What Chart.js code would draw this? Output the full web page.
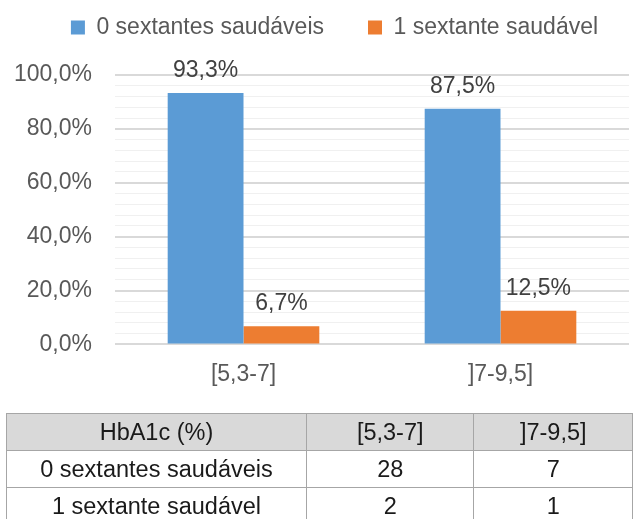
<!DOCTYPE html>
<html>
<head>
<meta charset="utf-8">
<script src="https://cdn.jsdelivr.net/npm/chart.js@4/dist/chart.umd.min.js"></script>
<style>
  html, body { margin: 0; padding: 0; background: #fff; }
  body { width: 633px; height: 519px; position: relative; overflow: hidden; font-family: "Liberation Sans", Arial, sans-serif; }
  #wrap { position: absolute; left: 0; top: 0; width: 633px; height: 418px; }
  table { position: absolute; left: 6px; top: 413px; border-collapse: collapse; table-layout: fixed; font-size: 23.5px; color: #1a1a1a; }
  td { border: 1px solid #a6a6a6; text-align: center; height: 36px; padding: 0; }
  tr.head td { background: #d9d9d9; }
</style>
</head>
<body>
<div id="wrap"><canvas id="chart" width="633" height="418"></canvas></div>
<table id="tbl"></table>
<script>
const categories = ['[5,3-7]', ']7-9,5]'];
const seriesNames = ['0 sextantes saudáveis', '1 sextante saudável'];
const pct0 = [93.3, 87.5];
const pct1 = [6.7, 12.5];
const counts0 = [28, 7];
const counts1 = [2, 1];
const tableHeader = 'HbA1c (%)';
const colors = ['#5B9BD5', '#ED7D31'];

const fmt = v => v.toFixed(1).replace('.', ',') + '%';
const FONT = '"Liberation Sans", Arial, sans-serif';
const LEGEND_GAP = 44;

// data labels above each bar
const barLabels = {
    id: 'barLabels',
    afterDatasetsDraw(chart) {
        const ctx = chart.ctx;
        ctx.save();
        ctx.font = '23px ' + FONT;
        ctx.fillStyle = '#404040';
        ctx.textAlign = 'center';
        ctx.textBaseline = 'bottom';
        chart.data.datasets.forEach((ds, i) => {
            chart.getDatasetMeta(i).data.forEach((bar, j) => {
                ctx.fillText(fmt(ds.data[j]), bar.x, bar.y - 11);
            });
        });
        ctx.restore();
    }
};

// the legend padding is also used vertically, so fix its height and top by hand
const legendSpace = {
    id: 'legendSpace',
    beforeInit(chart) {
        const fit = chart.legend.fit;
        chart.legend.fit = function () {
            fit.bind(chart.legend)();
            this.height = 70;
        };
    },
    afterLayout(chart) {
        chart.legend.left += 16;
        chart.legend.right += 16;
        chart.legend.top = 16 - LEGEND_GAP;
    }
};

const ctx = document.getElementById('chart').getContext('2d');
new Chart(ctx, {
    type: 'bar',
    data: {
        labels: categories,
        datasets: [{
            label: seriesNames[0],
            data: pct0,
            backgroundColor: colors[0],
            categoryPercentage: 0.59,
            barPercentage: 1
        }, {
            label: seriesNames[1],
            data: pct1,
            backgroundColor: colors[1],
            categoryPercentage: 0.59,
            barPercentage: 1
        }]
    },
    options: {
        responsive: false,
        animation: false,
        devicePixelRatio: 1,
        layout: { padding: { left: 8, right: 4, top: 5, bottom: 14 } },
        plugins: {
            legend: {
                position: 'top',
                labels: {
                    boxWidth: 14,
                    boxHeight: 14,
                    padding: LEGEND_GAP,
                    color: '#595959',
                    font: { family: FONT, size: 23 }
                }
            },
            tooltip: { enabled: false }
        },
        scales: {
            x: {
                grid: { display: false, drawTicks: false },
                border: { display: false },
                ticks: {
                    color: '#595959',
                    padding: 16,
                    font: { family: FONT, size: 23 }
                }
            },
            y: {
                min: 0,
                max: 100,
                afterFit(scale) { scale.width = 107; },
                ticks: {
                    stepSize: 4,
                    autoSkip: false,
                    padding: 23,
                    color: '#595959',
                    font: { family: FONT, size: 23 },
                    callback: v => (v % 20 === 0 ? fmt(v) : '')
                },
                grid: {
                    drawTicks: false,
                    color: c => (c.tick && c.tick.value % 20 === 0 ? '#d9d9d9' : '#f0f0f0'),
                    lineWidth: c => (c.tick && c.tick.value % 20 === 0 ? 2 : 1)
                },
                border: { display: false }
            }
        }
    },
    plugins: [barLabels, legendSpace]
});

// data table under the chart
const tbl = document.getElementById('tbl');
const colW = [303, 169, 160];
const rows = [
    [tableHeader].concat(categories),
    [seriesNames[0]].concat(counts0),
    [seriesNames[1]].concat(counts1)
];
rows.forEach((r, i) => {
    const tr = document.createElement('tr');
    if (i === 0) tr.className = 'head';
    r.forEach((cell, k) => {
        const td = document.createElement('td');
        td.textContent = cell;
        td.style.width = colW[k] + 'px';
        tr.appendChild(td);
    });
    tbl.appendChild(tr);
});
</script>
</body>
</html>
